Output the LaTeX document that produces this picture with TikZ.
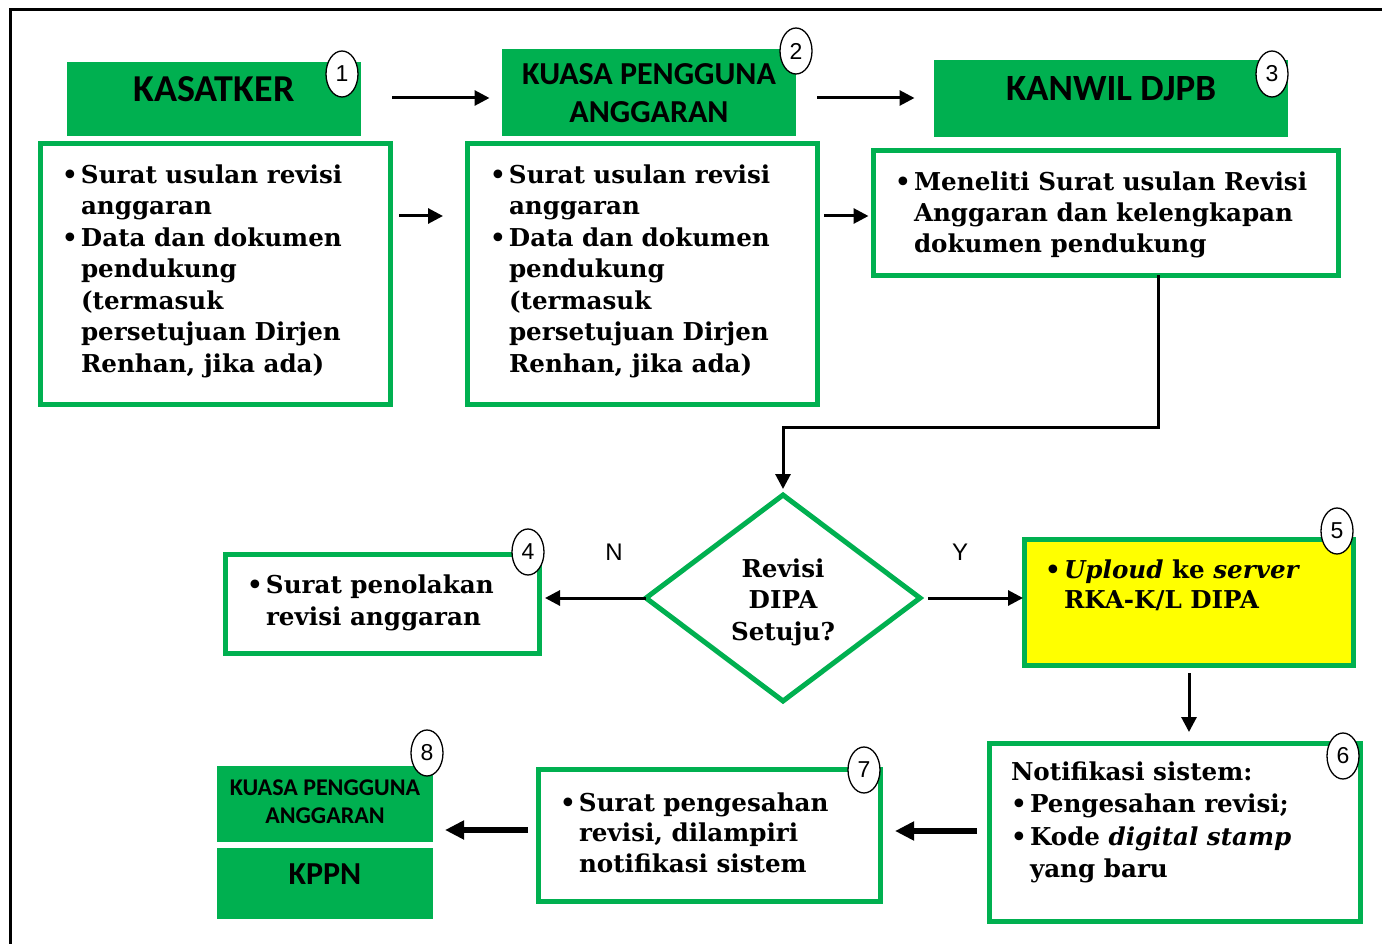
\documentclass[tikz,border=0pt]{standalone}
\usepackage{fontspec}
\setmainfont{DejaVu Serif}
\newfontfamily\hdfont{Carlito}
\newfontfamily\arialf{Liberation Sans}
\usetikzlibrary{arrows.meta,shapes.geometric}
\definecolor{grn}{HTML}{00B050}
\definecolor{yel}{HTML}{FFFF00}
\newcommand{\bl}{\makebox[19pt][l]{\textbullet}}
\newcommand{\nb}{\hspace*{19pt}}
\tikzset{
  frame/.style={rectangle, draw=grn, line width=5pt, fill=white, inner sep=0pt, outer sep=0pt},
  head/.style={rectangle, fill=grn, inner sep=0pt, outer sep=0pt},
  num/.style={ellipse, draw=black, fill=white, line width=1.3pt, minimum width=32pt, minimum height=46pt, inner sep=0pt, font=\arialf\fontsize{23pt}{27pt}\selectfont},
  body/.style={inner sep=0pt, outer sep=0pt, anchor=north west, font=\bfseries\fontsize{24.6pt}{#1}\selectfont},
  arr/.style={draw=black, line width=3pt, -{Triangle[length=15pt,width=15pt]}},
  barr/.style={draw=black, line width=5.5pt, -{Triangle[length=19pt,width=18pt]}},
  lab/.style={inner sep=0pt, font=\arialf\fontsize{24pt}{28pt}\selectfont}
}
\begin{document}
\begin{tikzpicture}[x=1pt,y=-1pt]
\useasboundingbox (0,0) rectangle (1382,944);
% outer frame
\draw[line width=2.5pt] (1382,9.5) -- (10.3,9.5) -- (10.3,944);

% white boxes
\node[frame, minimum width=349.5pt, minimum height=261pt] (b1) at (215.25,274) {};
\node[frame, minimum width=349.5pt, minimum height=261pt] (b2) at (642.25,274) {};
\node[frame, minimum width=464.5pt, minimum height=124.5pt] (b3) at (1105.75,213.25) {};
\node[frame, minimum width=313.5pt, minimum height=99pt] (b4) at (382.25,604) {};
\node[frame, fill=yel, minimum width=329pt, minimum height=126.5pt] (b5) at (1188.5,602.25) {};
\node[frame, minimum width=371pt, minimum height=177.5pt] (b6) at (1174.5,832.25) {};
\node[frame, minimum width=342pt, minimum height=132.5pt] (b7) at (709,835.25) {};
\node[diamond, draw=grn, line width=5pt, fill=white, minimum width=274pt, minimum height=206pt, inner sep=0pt, outer sep=0pt] (dia) at (783,598) {};

% green heads
\node[head, minimum width=294pt, minimum height=74pt, text height=20pt, text depth=14pt,
      font=\hdfont\bfseries\fontsize{38pt}{44pt}\selectfont] (kas) at (214,99) {KASATKER};
\node[head, minimum width=294pt, minimum height=87pt, text height=26.6pt, text depth=41.6pt,
      font=\hdfont\bfseries\fontsize{32pt}{38pt}\selectfont] (kpa) at (649,92.5)
      {\begin{tabular}[t]{@{}c@{}}KUASA PENGGUNA\\ANGGARAN\end{tabular}};
\node[head, minimum width=354pt, minimum height=77pt, text height=20pt, text depth=15.6pt,
      font=\hdfont\bfseries\fontsize{37pt}{44pt}\selectfont] (kanwil) at (1111,98.5) {KANWIL DJPB};
\node[head, minimum width=216pt, minimum height=76pt, text height=19.6pt, text depth=37.6pt,
      font=\hdfont\bfseries\fontsize{24pt}{28pt}\selectfont] (kpa2) at (325,804)
      {\begin{tabular}[t]{@{}c@{}}KUASA PENGGUNA\\ANGGARAN\end{tabular}};
\node[head, minimum width=216pt, minimum height=71pt, text height=15pt, text depth=14pt,
      font=\hdfont\bfseries\fontsize{32pt}{38pt}\selectfont] (kppn) at (325,883.5) {KPPN};

% connectors
\draw[arr, shorten <=31pt, shorten >=12.5pt] (kas.east |- 0,98) -- (kpa.west |- 0,98);
\draw[arr, shorten <=21pt, shorten >=19.5pt] (kpa.east |- 0,98) -- (kanwil.west |- 0,98);
\draw[arr, shorten <=9pt, shorten >=24.5pt] (b1.east |- 0,216) -- (b2.west |- 0,216);
\draw[arr, shorten <=7pt, shorten >=5pt] (b2.east |- 0,216) -- (b3.west |- 0,216);
\draw[arr, shorten >=6pt] (b3.south -| 1158,0) -- (1158,427) -| (dia.north);
\draw[arr, shorten >=6pt] (dia.west) -- (b4.east |- dia.west);
\draw[arr, shorten <=8pt, shorten >=1pt] (dia.east) -- (b5.west |- dia.east);
\draw[arr, shorten <=7.5pt, shorten >=11.5pt] (b5.south -| 1189,0) -- (b6.north -| 1189,0);
\draw[barr, shorten <=12pt, shorten >=15pt] (b6.west |- 0,831) -- (b7.east |- 0,831);
\draw[barr, shorten <=10pt, shorten >=12pt] (b7.west |- 0,830) -- (kpa2.east |- 0,830);

\node[lab] (ln) at (614,552) {N};
\node[lab] (ly) at (960,552) {Y};

% texts
\node[body=31.5pt] (t1) at (62,161) {\begin{tabular}{@{}l@{}}\bl Surat usulan revisi\\ \nb anggaran\\ \bl Data dan dokumen\\ \nb pendukung\\ \nb (termasuk\\ \nb persetujuan Dirjen\\ \nb Renhan, jika ada)\end{tabular}};
\node[body=31.5pt] (t2) at (490,161) {\begin{tabular}{@{}l@{}}\bl Surat usulan revisi\\ \nb anggaran\\ \bl Data dan dokumen\\ \nb pendukung\\ \nb (termasuk\\ \nb persetujuan Dirjen\\ \nb Renhan, jika ada)\end{tabular}};
\node[body=31pt] (t3) at (895,169.3) {\begin{tabular}{@{}l@{}}\bl Meneliti Surat usulan Revisi\\ \nb Anggaran dan kelengkapan\\ \nb dokumen pendukung\end{tabular}};
\node[body=32pt] (t4) at (247,570.6) {\begin{tabular}{@{}l@{}}\bl Surat penolakan\\ \nb revisi anggaran\end{tabular}};
\node[body=30.5pt] (t5) at (1045,556.65) {\begin{tabular}{@{}l@{}}\bl \textit{Uploud} ke \textit{server}\\ \nb RKA-K/L DIPA\end{tabular}};
\node[body=32.5pt] (t6) at (1011,757.25) {\begin{tabular}{@{}l@{}}Notifikasi sistem:\\ \bl Pengesahan revisi;\\ \bl Kode \textit{digital stamp}\\ \nb yang baru\end{tabular}};
\node[body=30.5pt] (t7) at (560,789.65) {\begin{tabular}{@{}l@{}}\bl Surat pengesahan\\ \nb revisi, dilampiri\\ \nb notifikasi sistem\end{tabular}};
\node[inner sep=0pt, anchor=north, font=\bfseries\fontsize{24.6pt}{31.5pt}\selectfont] (dq) at (783,555) {\begin{tabular}{@{}c@{}}Revisi\\DIPA\\Setuju?\end{tabular}};

% number badges
\node[num] (n1) at (342,74) {1};
\node[num] (n2) at (796,51) {2};
\node[num] (n3) at (1272,74) {3};
\node[num] (n4) at (528,552) {4};
\node[num] (n5) at (1337,531) {5};
\node[num] (n6) at (1343,756) {6};
\node[num] (n7) at (864,770) {7};
\node[num] (n8) at (427,753) {8};
\end{tikzpicture}
\end{document}
